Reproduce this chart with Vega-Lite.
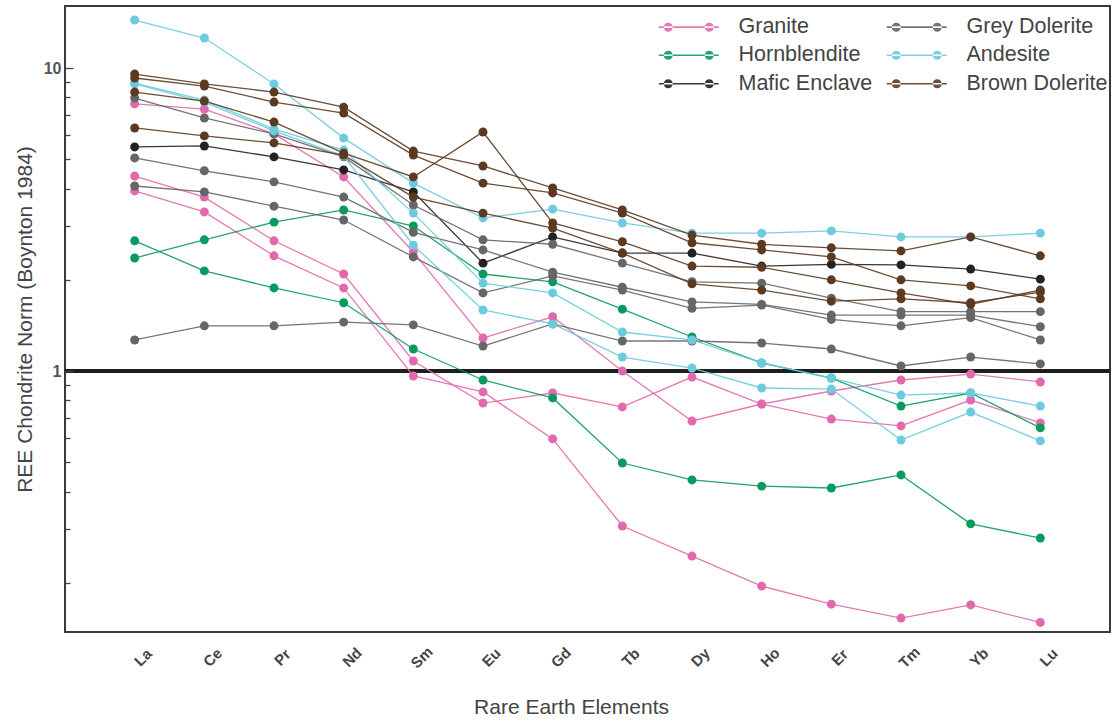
{
  "$schema": "https://vega.github.io/schema/vega-lite/v6.json",
  "width": 1045,
  "height": 626,
  "autosize": {"type": "none"},
  "padding": {"left": 65, "top": 6, "right": 2, "bottom": 93},
  "background": "white",
  "config": {
    "font": "Liberation Sans",
    "view": {"stroke": "#3a3a3a", "strokeWidth": 2}
  },
  "data": {
    "values": [
      {"rock": "Granite", "sample": "GR-1", "element": "La", "value": 7.61},
      {"rock": "Granite", "sample": "GR-1", "element": "Ce", "value": 7.32},
      {"rock": "Granite", "sample": "GR-1", "element": "Pr", "value": 6.06},
      {"rock": "Granite", "sample": "GR-1", "element": "Nd", "value": 4.37},
      {"rock": "Granite", "sample": "GR-1", "element": "Sm", "value": 2.47},
      {"rock": "Granite", "sample": "GR-1", "element": "Eu", "value": 1.285},
      {"rock": "Granite", "sample": "GR-1", "element": "Gd", "value": 1.51},
      {"rock": "Granite", "sample": "GR-1", "element": "Tb", "value": 1.0},
      {"rock": "Granite", "sample": "GR-1", "element": "Dy", "value": 0.684},
      {"rock": "Granite", "sample": "GR-1", "element": "Ho", "value": 0.778},
      {"rock": "Granite", "sample": "GR-1", "element": "Er", "value": 0.694},
      {"rock": "Granite", "sample": "GR-1", "element": "Tm", "value": 0.659},
      {"rock": "Granite", "sample": "GR-1", "element": "Yb", "value": 0.802},
      {"rock": "Granite", "sample": "GR-1", "element": "Lu", "value": 0.674},
      {"rock": "Granite", "sample": "GR-2", "element": "La", "value": 4.40},
      {"rock": "Granite", "sample": "GR-2", "element": "Ce", "value": 3.75},
      {"rock": "Granite", "sample": "GR-2", "element": "Pr", "value": 2.69},
      {"rock": "Granite", "sample": "GR-2", "element": "Nd", "value": 2.09},
      {"rock": "Granite", "sample": "GR-2", "element": "Sm", "value": 1.079},
      {"rock": "Granite", "sample": "GR-2", "element": "Eu", "value": 0.784},
      {"rock": "Granite", "sample": "GR-2", "element": "Gd", "value": 0.846},
      {"rock": "Granite", "sample": "GR-2", "element": "Tb", "value": 0.761},
      {"rock": "Granite", "sample": "GR-2", "element": "Dy", "value": 0.955},
      {"rock": "Granite", "sample": "GR-2", "element": "Ho", "value": 0.778},
      {"rock": "Granite", "sample": "GR-2", "element": "Er", "value": 0.859},
      {"rock": "Granite", "sample": "GR-2", "element": "Tm", "value": 0.934},
      {"rock": "Granite", "sample": "GR-2", "element": "Yb", "value": 0.977},
      {"rock": "Granite", "sample": "GR-2", "element": "Lu", "value": 0.920},
      {"rock": "Granite", "sample": "GR-3", "element": "La", "value": 3.93},
      {"rock": "Granite", "sample": "GR-3", "element": "Ce", "value": 3.35},
      {"rock": "Granite", "sample": "GR-3", "element": "Pr", "value": 2.40},
      {"rock": "Granite", "sample": "GR-3", "element": "Nd", "value": 1.88},
      {"rock": "Granite", "sample": "GR-3", "element": "Sm", "value": 0.963},
      {"rock": "Granite", "sample": "GR-3", "element": "Eu", "value": 0.853},
      {"rock": "Granite", "sample": "GR-3", "element": "Gd", "value": 0.597},
      {"rock": "Granite", "sample": "GR-3", "element": "Tb", "value": 0.308},
      {"rock": "Granite", "sample": "GR-3", "element": "Dy", "value": 0.245},
      {"rock": "Granite", "sample": "GR-3", "element": "Ho", "value": 0.195},
      {"rock": "Granite", "sample": "GR-3", "element": "Er", "value": 0.170},
      {"rock": "Granite", "sample": "GR-3", "element": "Tm", "value": 0.153},
      {"rock": "Granite", "sample": "GR-3", "element": "Yb", "value": 0.169},
      {"rock": "Granite", "sample": "GR-3", "element": "Lu", "value": 0.148},
      {"rock": "Hornblendite", "sample": "HB-1", "element": "La", "value": 2.69},
      {"rock": "Hornblendite", "sample": "HB-1", "element": "Ce", "value": 2.14},
      {"rock": "Hornblendite", "sample": "HB-1", "element": "Pr", "value": 1.88},
      {"rock": "Hornblendite", "sample": "HB-1", "element": "Nd", "value": 1.68},
      {"rock": "Hornblendite", "sample": "HB-1", "element": "Sm", "value": 1.182},
      {"rock": "Hornblendite", "sample": "HB-1", "element": "Eu", "value": 0.934},
      {"rock": "Hornblendite", "sample": "HB-1", "element": "Gd", "value": 0.815},
      {"rock": "Hornblendite", "sample": "HB-1", "element": "Tb", "value": 0.497},
      {"rock": "Hornblendite", "sample": "HB-1", "element": "Dy", "value": 0.437},
      {"rock": "Hornblendite", "sample": "HB-1", "element": "Ho", "value": 0.417},
      {"rock": "Hornblendite", "sample": "HB-1", "element": "Er", "value": 0.411},
      {"rock": "Hornblendite", "sample": "HB-1", "element": "Tm", "value": 0.454},
      {"rock": "Hornblendite", "sample": "HB-1", "element": "Yb", "value": 0.313},
      {"rock": "Hornblendite", "sample": "HB-1", "element": "Lu", "value": 0.281},
      {"rock": "Hornblendite", "sample": "HB-2", "element": "La", "value": 2.36},
      {"rock": "Hornblendite", "sample": "HB-2", "element": "Ce", "value": 2.71},
      {"rock": "Hornblendite", "sample": "HB-2", "element": "Pr", "value": 3.10},
      {"rock": "Hornblendite", "sample": "HB-2", "element": "Nd", "value": 3.40},
      {"rock": "Hornblendite", "sample": "HB-2", "element": "Sm", "value": 3.01},
      {"rock": "Hornblendite", "sample": "HB-2", "element": "Eu", "value": 2.09},
      {"rock": "Hornblendite", "sample": "HB-2", "element": "Gd", "value": 1.97},
      {"rock": "Hornblendite", "sample": "HB-2", "element": "Tb", "value": 1.60},
      {"rock": "Hornblendite", "sample": "HB-2", "element": "Dy", "value": 1.295},
      {"rock": "Hornblendite", "sample": "HB-2", "element": "Ho", "value": 1.063},
      {"rock": "Hornblendite", "sample": "HB-2", "element": "Er", "value": 0.948},
      {"rock": "Hornblendite", "sample": "HB-2", "element": "Tm", "value": 0.766},
      {"rock": "Hornblendite", "sample": "HB-2", "element": "Yb", "value": 0.846},
      {"rock": "Hornblendite", "sample": "HB-2", "element": "Lu", "value": 0.649},
      {"rock": "Mafic Enclave", "sample": "ME-1", "element": "La", "value": 5.49},
      {"rock": "Mafic Enclave", "sample": "ME-1", "element": "Ce", "value": 5.53},
      {"rock": "Mafic Enclave", "sample": "ME-1", "element": "Pr", "value": 5.09},
      {"rock": "Mafic Enclave", "sample": "ME-1", "element": "Nd", "value": 4.61},
      {"rock": "Mafic Enclave", "sample": "ME-1", "element": "Sm", "value": 3.90},
      {"rock": "Mafic Enclave", "sample": "ME-1", "element": "Eu", "value": 2.27},
      {"rock": "Mafic Enclave", "sample": "ME-1", "element": "Gd", "value": 2.77},
      {"rock": "Mafic Enclave", "sample": "ME-1", "element": "Tb", "value": 2.45},
      {"rock": "Mafic Enclave", "sample": "ME-1", "element": "Dy", "value": 2.45},
      {"rock": "Mafic Enclave", "sample": "ME-1", "element": "Ho", "value": 2.22},
      {"rock": "Mafic Enclave", "sample": "ME-1", "element": "Er", "value": 2.25},
      {"rock": "Mafic Enclave", "sample": "ME-1", "element": "Tm", "value": 2.24},
      {"rock": "Mafic Enclave", "sample": "ME-1", "element": "Yb", "value": 2.17},
      {"rock": "Mafic Enclave", "sample": "ME-1", "element": "Lu", "value": 2.01},
      {"rock": "Grey Dolerite", "sample": "GD-1", "element": "La", "value": 1.266},
      {"rock": "Grey Dolerite", "sample": "GD-1", "element": "Ce", "value": 1.41},
      {"rock": "Grey Dolerite", "sample": "GD-1", "element": "Pr", "value": 1.41},
      {"rock": "Grey Dolerite", "sample": "GD-1", "element": "Nd", "value": 1.45},
      {"rock": "Grey Dolerite", "sample": "GD-1", "element": "Sm", "value": 1.42},
      {"rock": "Grey Dolerite", "sample": "GD-1", "element": "Eu", "value": 1.209},
      {"rock": "Grey Dolerite", "sample": "GD-1", "element": "Gd", "value": 1.43},
      {"rock": "Grey Dolerite", "sample": "GD-1", "element": "Tb", "value": 1.256},
      {"rock": "Grey Dolerite", "sample": "GD-1", "element": "Dy", "value": 1.256},
      {"rock": "Grey Dolerite", "sample": "GD-1", "element": "Ho", "value": 1.237},
      {"rock": "Grey Dolerite", "sample": "GD-1", "element": "Er", "value": 1.182},
      {"rock": "Grey Dolerite", "sample": "GD-1", "element": "Tm", "value": 1.039},
      {"rock": "Grey Dolerite", "sample": "GD-1", "element": "Yb", "value": 1.112},
      {"rock": "Grey Dolerite", "sample": "GD-1", "element": "Lu", "value": 1.055},
      {"rock": "Grey Dolerite", "sample": "GD-2", "element": "La", "value": 7.96},
      {"rock": "Grey Dolerite", "sample": "GD-2", "element": "Ce", "value": 6.84},
      {"rock": "Grey Dolerite", "sample": "GD-2", "element": "Pr", "value": 6.06},
      {"rock": "Grey Dolerite", "sample": "GD-2", "element": "Nd", "value": 5.09},
      {"rock": "Grey Dolerite", "sample": "GD-2", "element": "Sm", "value": 3.53},
      {"rock": "Grey Dolerite", "sample": "GD-2", "element": "Eu", "value": 2.71},
      {"rock": "Grey Dolerite", "sample": "GD-2", "element": "Gd", "value": 2.62},
      {"rock": "Grey Dolerite", "sample": "GD-2", "element": "Tb", "value": 2.27},
      {"rock": "Grey Dolerite", "sample": "GD-2", "element": "Dy", "value": 1.97},
      {"rock": "Grey Dolerite", "sample": "GD-2", "element": "Ho", "value": 1.95},
      {"rock": "Grey Dolerite", "sample": "GD-2", "element": "Er", "value": 1.74},
      {"rock": "Grey Dolerite", "sample": "GD-2", "element": "Tm", "value": 1.57},
      {"rock": "Grey Dolerite", "sample": "GD-2", "element": "Yb", "value": 1.57},
      {"rock": "Grey Dolerite", "sample": "GD-2", "element": "Lu", "value": 1.57},
      {"rock": "Grey Dolerite", "sample": "GD-3", "element": "La", "value": 5.05},
      {"rock": "Grey Dolerite", "sample": "GD-3", "element": "Ce", "value": 4.58},
      {"rock": "Grey Dolerite", "sample": "GD-3", "element": "Pr", "value": 4.21},
      {"rock": "Grey Dolerite", "sample": "GD-3", "element": "Nd", "value": 3.75},
      {"rock": "Grey Dolerite", "sample": "GD-3", "element": "Sm", "value": 2.87},
      {"rock": "Grey Dolerite", "sample": "GD-3", "element": "Eu", "value": 2.51},
      {"rock": "Grey Dolerite", "sample": "GD-3", "element": "Gd", "value": 2.12},
      {"rock": "Grey Dolerite", "sample": "GD-3", "element": "Tb", "value": 1.89},
      {"rock": "Grey Dolerite", "sample": "GD-3", "element": "Dy", "value": 1.69},
      {"rock": "Grey Dolerite", "sample": "GD-3", "element": "Ho", "value": 1.66},
      {"rock": "Grey Dolerite", "sample": "GD-3", "element": "Er", "value": 1.53},
      {"rock": "Grey Dolerite", "sample": "GD-3", "element": "Tm", "value": 1.53},
      {"rock": "Grey Dolerite", "sample": "GD-3", "element": "Yb", "value": 1.53},
      {"rock": "Grey Dolerite", "sample": "GD-3", "element": "Lu", "value": 1.40},
      {"rock": "Grey Dolerite", "sample": "GD-4", "element": "La", "value": 4.08},
      {"rock": "Grey Dolerite", "sample": "GD-4", "element": "Ce", "value": 3.90},
      {"rock": "Grey Dolerite", "sample": "GD-4", "element": "Pr", "value": 3.50},
      {"rock": "Grey Dolerite", "sample": "GD-4", "element": "Nd", "value": 3.15},
      {"rock": "Grey Dolerite", "sample": "GD-4", "element": "Sm", "value": 2.38},
      {"rock": "Grey Dolerite", "sample": "GD-4", "element": "Eu", "value": 1.81},
      {"rock": "Grey Dolerite", "sample": "GD-4", "element": "Gd", "value": 2.06},
      {"rock": "Grey Dolerite", "sample": "GD-4", "element": "Tb", "value": 1.85},
      {"rock": "Grey Dolerite", "sample": "GD-4", "element": "Dy", "value": 1.61},
      {"rock": "Grey Dolerite", "sample": "GD-4", "element": "Ho", "value": 1.65},
      {"rock": "Grey Dolerite", "sample": "GD-4", "element": "Er", "value": 1.48},
      {"rock": "Grey Dolerite", "sample": "GD-4", "element": "Tm", "value": 1.41},
      {"rock": "Grey Dolerite", "sample": "GD-4", "element": "Yb", "value": 1.50},
      {"rock": "Grey Dolerite", "sample": "GD-4", "element": "Lu", "value": 1.266},
      {"rock": "Andesite", "sample": "AN-1", "element": "La", "value": 14.40},
      {"rock": "Andesite", "sample": "AN-1", "element": "Ce", "value": 12.56},
      {"rock": "Andesite", "sample": "AN-1", "element": "Pr", "value": 8.86},
      {"rock": "Andesite", "sample": "AN-1", "element": "Nd", "value": 5.87},
      {"rock": "Andesite", "sample": "AN-1", "element": "Sm", "value": 4.17},
      {"rock": "Andesite", "sample": "AN-1", "element": "Eu", "value": 3.20},
      {"rock": "Andesite", "sample": "AN-1", "element": "Gd", "value": 3.42},
      {"rock": "Andesite", "sample": "AN-1", "element": "Tb", "value": 3.08},
      {"rock": "Andesite", "sample": "AN-1", "element": "Dy", "value": 2.85},
      {"rock": "Andesite", "sample": "AN-1", "element": "Ho", "value": 2.85},
      {"rock": "Andesite", "sample": "AN-1", "element": "Er", "value": 2.90},
      {"rock": "Andesite", "sample": "AN-1", "element": "Tm", "value": 2.77},
      {"rock": "Andesite", "sample": "AN-1", "element": "Yb", "value": 2.77},
      {"rock": "Andesite", "sample": "AN-1", "element": "Lu", "value": 2.85},
      {"rock": "Andesite", "sample": "AN-2", "element": "La", "value": 8.92},
      {"rock": "Andesite", "sample": "AN-2", "element": "Ce", "value": 7.84},
      {"rock": "Andesite", "sample": "AN-2", "element": "Pr", "value": 6.29},
      {"rock": "Andesite", "sample": "AN-2", "element": "Nd", "value": 5.36},
      {"rock": "Andesite", "sample": "AN-2", "element": "Sm", "value": 3.32},
      {"rock": "Andesite", "sample": "AN-2", "element": "Eu", "value": 1.95},
      {"rock": "Andesite", "sample": "AN-2", "element": "Gd", "value": 1.81},
      {"rock": "Andesite", "sample": "AN-2", "element": "Tb", "value": 1.345},
      {"rock": "Andesite", "sample": "AN-2", "element": "Dy", "value": 1.266},
      {"rock": "Andesite", "sample": "AN-2", "element": "Ho", "value": 1.063},
      {"rock": "Andesite", "sample": "AN-2", "element": "Er", "value": 0.948},
      {"rock": "Andesite", "sample": "AN-2", "element": "Tm", "value": 0.833},
      {"rock": "Andesite", "sample": "AN-2", "element": "Yb", "value": 0.846},
      {"rock": "Andesite", "sample": "AN-2", "element": "Lu", "value": 0.766},
      {"rock": "Andesite", "sample": "AN-3", "element": "La", "value": 8.86},
      {"rock": "Andesite", "sample": "AN-3", "element": "Ce", "value": 7.72},
      {"rock": "Andesite", "sample": "AN-3", "element": "Pr", "value": 6.20},
      {"rock": "Andesite", "sample": "AN-3", "element": "Nd", "value": 5.12},
      {"rock": "Andesite", "sample": "AN-3", "element": "Sm", "value": 2.60},
      {"rock": "Andesite", "sample": "AN-3", "element": "Eu", "value": 1.59},
      {"rock": "Andesite", "sample": "AN-3", "element": "Gd", "value": 1.43},
      {"rock": "Andesite", "sample": "AN-3", "element": "Tb", "value": 1.112},
      {"rock": "Andesite", "sample": "AN-3", "element": "Dy", "value": 1.023},
      {"rock": "Andesite", "sample": "AN-3", "element": "Ho", "value": 0.879},
      {"rock": "Andesite", "sample": "AN-3", "element": "Er", "value": 0.872},
      {"rock": "Andesite", "sample": "AN-3", "element": "Tm", "value": 0.592},
      {"rock": "Andesite", "sample": "AN-3", "element": "Yb", "value": 0.732},
      {"rock": "Andesite", "sample": "AN-3", "element": "Lu", "value": 0.588},
      {"rock": "Brown Dolerite", "sample": "BD-1", "element": "La", "value": 9.55},
      {"rock": "Brown Dolerite", "sample": "BD-1", "element": "Ce", "value": 8.86},
      {"rock": "Brown Dolerite", "sample": "BD-1", "element": "Pr", "value": 8.33},
      {"rock": "Brown Dolerite", "sample": "BD-1", "element": "Nd", "value": 7.43},
      {"rock": "Brown Dolerite", "sample": "BD-1", "element": "Sm", "value": 5.32},
      {"rock": "Brown Dolerite", "sample": "BD-1", "element": "Eu", "value": 4.75},
      {"rock": "Brown Dolerite", "sample": "BD-1", "element": "Gd", "value": 4.02},
      {"rock": "Brown Dolerite", "sample": "BD-1", "element": "Tb", "value": 3.40},
      {"rock": "Brown Dolerite", "sample": "BD-1", "element": "Dy", "value": 2.81},
      {"rock": "Brown Dolerite", "sample": "BD-1", "element": "Ho", "value": 2.62},
      {"rock": "Brown Dolerite", "sample": "BD-1", "element": "Er", "value": 2.55},
      {"rock": "Brown Dolerite", "sample": "BD-1", "element": "Tm", "value": 2.49},
      {"rock": "Brown Dolerite", "sample": "BD-1", "element": "Yb", "value": 2.77},
      {"rock": "Brown Dolerite", "sample": "BD-1", "element": "Lu", "value": 2.40},
      {"rock": "Brown Dolerite", "sample": "BD-2", "element": "La", "value": 9.27},
      {"rock": "Brown Dolerite", "sample": "BD-2", "element": "Ce", "value": 8.72},
      {"rock": "Brown Dolerite", "sample": "BD-2", "element": "Pr", "value": 7.72},
      {"rock": "Brown Dolerite", "sample": "BD-2", "element": "Nd", "value": 7.10},
      {"rock": "Brown Dolerite", "sample": "BD-2", "element": "Sm", "value": 5.16},
      {"rock": "Brown Dolerite", "sample": "BD-2", "element": "Eu", "value": 4.17},
      {"rock": "Brown Dolerite", "sample": "BD-2", "element": "Gd", "value": 3.87},
      {"rock": "Brown Dolerite", "sample": "BD-2", "element": "Tb", "value": 3.32},
      {"rock": "Brown Dolerite", "sample": "BD-2", "element": "Dy", "value": 2.65},
      {"rock": "Brown Dolerite", "sample": "BD-2", "element": "Ho", "value": 2.51},
      {"rock": "Brown Dolerite", "sample": "BD-2", "element": "Er", "value": 2.38},
      {"rock": "Brown Dolerite", "sample": "BD-2", "element": "Tm", "value": 2.00},
      {"rock": "Brown Dolerite", "sample": "BD-2", "element": "Yb", "value": 1.91},
      {"rock": "Brown Dolerite", "sample": "BD-2", "element": "Lu", "value": 1.73},
      {"rock": "Brown Dolerite", "sample": "BD-3", "element": "La", "value": 8.33},
      {"rock": "Brown Dolerite", "sample": "BD-3", "element": "Ce", "value": 7.78},
      {"rock": "Brown Dolerite", "sample": "BD-3", "element": "Pr", "value": 6.63},
      {"rock": "Brown Dolerite", "sample": "BD-3", "element": "Nd", "value": 5.24},
      {"rock": "Brown Dolerite", "sample": "BD-3", "element": "Sm", "value": 4.37},
      {"rock": "Brown Dolerite", "sample": "BD-3", "element": "Eu", "value": 6.15},
      {"rock": "Brown Dolerite", "sample": "BD-3", "element": "Gd", "value": 3.08},
      {"rock": "Brown Dolerite", "sample": "BD-3", "element": "Tb", "value": 2.67},
      {"rock": "Brown Dolerite", "sample": "BD-3", "element": "Dy", "value": 2.22},
      {"rock": "Brown Dolerite", "sample": "BD-3", "element": "Ho", "value": 2.20},
      {"rock": "Brown Dolerite", "sample": "BD-3", "element": "Er", "value": 2.00},
      {"rock": "Brown Dolerite", "sample": "BD-3", "element": "Tm", "value": 1.81},
      {"rock": "Brown Dolerite", "sample": "BD-3", "element": "Yb", "value": 1.66},
      {"rock": "Brown Dolerite", "sample": "BD-3", "element": "Lu", "value": 1.85},
      {"rock": "Brown Dolerite", "sample": "BD-4", "element": "La", "value": 6.34},
      {"rock": "Brown Dolerite", "sample": "BD-4", "element": "Ce", "value": 5.97},
      {"rock": "Brown Dolerite", "sample": "BD-4", "element": "Pr", "value": 5.66},
      {"rock": "Brown Dolerite", "sample": "BD-4", "element": "Nd", "value": 5.16},
      {"rock": "Brown Dolerite", "sample": "BD-4", "element": "Sm", "value": 3.75},
      {"rock": "Brown Dolerite", "sample": "BD-4", "element": "Eu", "value": 3.32},
      {"rock": "Brown Dolerite", "sample": "BD-4", "element": "Gd", "value": 2.96},
      {"rock": "Brown Dolerite", "sample": "BD-4", "element": "Tb", "value": 2.45},
      {"rock": "Brown Dolerite", "sample": "BD-4", "element": "Dy", "value": 1.94},
      {"rock": "Brown Dolerite", "sample": "BD-4", "element": "Ho", "value": 1.85},
      {"rock": "Brown Dolerite", "sample": "BD-4", "element": "Er", "value": 1.70},
      {"rock": "Brown Dolerite", "sample": "BD-4", "element": "Tm", "value": 1.73},
      {"rock": "Brown Dolerite", "sample": "BD-4", "element": "Yb", "value": 1.68},
      {"rock": "Brown Dolerite", "sample": "BD-4", "element": "Lu", "value": 1.82}
    ]
  },
  "layer": [
    {
      "mark": {"type": "rule", "color": "#1f1f1f", "strokeWidth": 3},
      "encoding": {"y": {"datum": 1}}
    },
    {
      "mark": {"type": "line", "strokeWidth": 1.3, "opacity": 0.9},
      "encoding": {
        "x": {
          "field": "element",
          "type": "ordinal",
          "scale": {
            "type": "point",
            "padding": 1.14,
            "domain": ["La", "Ce", "Pr", "Nd", "Sm", "Eu", "Gd", "Tb", "Dy", "Ho", "Er", "Tm", "Yb", "Lu"]
          },
          "axis": {
            "title": "Rare Earth Elements",
            "titleFontSize": 21,
            "titleFontWeight": "normal",
            "titleColor": "#444444",
            "titlePadding": 26,
            "titleX": 506,
            "labelAngle": -45,
            "labelAlign": "center",
            "labelBaseline": "middle",
            "labelPadding": 25,
            "labelOffset": 8,
            "labelFontSize": 15,
            "labelFontWeight": "bold",
            "labelColor": "#444444",
            "ticks": false,
            "domain": false,
            "grid": false
          }
        },
        "y": {
          "field": "value",
          "type": "quantitative",
          "scale": {"type": "log", "domain": [0.1376, 16.02], "nice": false},
          "axis": {
            "title": "REE Chondrite Norm (Boynton 1984)",
            "titleFontSize": 21,
            "titleFontWeight": "normal",
            "titleColor": "#444444",
            "titlePadding": 8,
            "values": [0.2, 0.3, 0.4, 0.5, 0.6, 0.7, 0.8, 0.9, 1, 2, 3, 4, 5, 6, 7, 8, 9, 10],
            "labelExpr": "datum.value === 1 || datum.value === 10 ? datum.label : ''",
            "labelFontSize": 16,
            "labelFontWeight": "bold",
            "labelColor": "#555555",
            "labelPadding": 12,
            "ticks": true,
            "tickSize": {"condition": {"test": "datum.value === 1 || datum.value === 10", "value": -8}, "value": -5},
            "tickColor": "#444444",
            "tickWidth": 1.3,
            "zindex": 1,
            "domain": false,
            "grid": false
          }
        },
        "color": {"field": "rock", "type": "nominal"},
        "detail": {"field": "sample"}
      }
    },
    {
      "mark": {"type": "point", "filled": true, "size": 80, "opacity": 1},
      "encoding": {
        "x": {"field": "element", "type": "ordinal"},
        "y": {"field": "value", "type": "quantitative"},
        "color": {
          "field": "rock",
          "type": "nominal",
          "scale": {
            "domain": ["Granite", "Grey Dolerite", "Hornblendite", "Andesite", "Mafic Enclave", "Brown Dolerite"],
            "range": ["#e26aac", "#666666", "#0a9a5e", "#6ccbdd", "#222222", "#5c3a21"]
          },
          "legend": {
            "title": null,
            "orient": "none",
            "legendX": 593,
            "legendY": 10,
            "columns": 2,
            "direction": "horizontal",
            "padding": 0,
            "symbolType": "M-3,-0.08L3,-0.08L3,0.08L-3,0.08ZM-2.5,0A0.45,0.45 0 1,0 -1.6,0A0.45,0.45 0 1,0 -2.5,0ZM1.6,0A0.45,0.45 0 1,0 2.5,0A0.45,0.45 0 1,0 1.6,0Z",
            "symbolSize": 400,
            "symbolOffset": 20,
            "symbolStrokeWidth": 0,
            "symbolOpacity": 1,
            "labelOffset": 39,
            "labelFontSize": 21.5,
            "labelColor": "#444444",
            "rowPadding": 5.5,
            "columnPadding": 13
          }
        },
        "detail": {"field": "sample"}
      }
    }
  ]
}
